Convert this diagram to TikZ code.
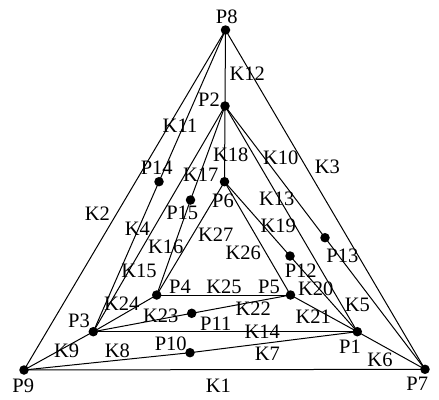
\documentclass[tikz,border=0pt]{standalone}
\usepackage{fontspec}
\setmainfont{Liberation Serif}
\begin{document}
\begin{tikzpicture}[x=1pt,y=-1pt,
  dot/.style={circle,fill=black,inner sep=0pt,minimum size=9.5pt},
  lbl/.style={inner sep=0pt,font=\fontsize{20.5}{20.5}\selectfont},
  edge/.style={line width=1pt}]
\useasboundingbox (0,0) rectangle (439,399);
% points
\node[dot] (P8) at (225.5,30) {};
\node[dot] (P2) at (225,106) {};
\node[dot] (P6) at (224.5,181.7) {};
\node[dot] (P14) at (159,181.7) {};
\node[dot] (P15) at (190.5,200) {};
\node[dot] (P13) at (325,237.7) {};
\node[dot] (P12) at (290,256) {};
\node[dot] (P4) at (156.7,295) {};
\node[dot] (P5) at (290.5,295) {};
\node[dot] (P11) at (191.7,313.3) {};
\node[dot] (P3) at (93.3,331.7) {};
\node[dot] (P1) at (357.3,331.7) {};
\node[dot] (P10) at (190,352.7) {};
\node[dot] (P9) at (24,370) {};
\node[dot] (P7) at (425,369.3) {};
% edges
\begin{scope}[edge]
\draw (P9.center) -- (P8.center);
\draw (P8.center) -- (P7.center);
\draw (P9.center) -- (P7.center);
\draw (P8.center) -- (P14.center);
\draw (P14.center) -- (P3.center);
\draw (P8.center) -- (P2.center);
\draw (P2.center) -- (P3.center);
\draw (P2.center) -- (P15.center);
\draw (P15.center) -- (P4.center);
\draw (P2.center) -- (P6.center);
\draw (P2.center) -- (P13.center);
\draw (P13.center) -- (P7.center);
\draw (P2.center) -- (P1.center);
\draw (P6.center) -- (P12.center);
\draw (P12.center) -- (P1.center);
\draw (P6.center) -- (P5.center);
\draw (P6.center) -- (P4.center);
\draw (P4.center) -- (P5.center);
\draw (P3.center) -- (P4.center);
\draw (P3.center) -- (P11.center);
\draw (P11.center) -- (P5.center);
\draw (P3.center) -- (P1.center);
\draw (P5.center) -- (P1.center);
\draw (P9.center) -- (P3.center);
\draw (P9.center) -- (P10.center);
\draw (P10.center) -- (P1.center);
\draw (P1.center) -- (P7.center);
\end{scope}
% point labels
\node[lbl] (lP8) at (226.7,16.7) {P8};
\node[lbl] (lP2) at (209,99.3) {P2};
\node[lbl] (lP14) at (156.7,167.3) {P14};
\node[lbl] (lP15) at (182.3,213.3) {P15};
\node[lbl] (lP6) at (223,201) {P6};
\node[lbl] (lP13) at (342.3,255.7) {P13};
\node[lbl] (lP12) at (300.7,270.7) {P12};
\node[lbl] (lP4) at (180,286.7) {P4};
\node[lbl] (lP5) at (269,286.7) {P5};
\node[lbl] (lP11) at (215.7,323.3) {P11};
\node[lbl] (lP3) at (79,320.7) {P3};
\node[lbl] (lP1) at (350,346.7) {P1};
\node[lbl] (lP10) at (170.7,344) {P10};
\node[lbl] (lP9) at (23.3,385.7) {P9};
\node[lbl] (lP7) at (417.3,384) {P7};
% edge labels
\node[lbl] (K1) at (218.3,385.7) {K1};
\node[lbl] (K2) at (97.3,214) {K2};
\node[lbl] (K3) at (327.3,167.3) {K3};
\node[lbl] (K4) at (137.3,229) {K4};
\node[lbl] (K5) at (357.3,305) {K5};
\node[lbl] (K6) at (380,360) {K6};
\node[lbl] (K7) at (267.3,354) {K7};
\node[lbl] (K8) at (117.3,350.7) {K8};
\node[lbl] (K9) at (66.7,350.7) {K9};
\node[lbl] (K10) at (280.7,157.3) {K10};
\node[lbl] (K11) at (180,126) {K11};
\node[lbl] (K12) at (247.3,73.3) {K12};
\node[lbl] (K13) at (276.7,199) {K13};
\node[lbl] (K14) at (262.3,331.7) {K14};
\node[lbl] (K15) at (139,270.7) {K15};
\node[lbl] (K16) at (165.7,247.3) {K16};
\node[lbl] (K17) at (200.7,175) {K17};
\node[lbl] (K18) at (230.7,155) {K18};
\node[lbl] (K19) at (278.3,225.7) {K19};
\node[lbl] (K20) at (315.7,289) {K20};
\node[lbl] (K21) at (313.3,316.7) {K21};
\node[lbl] (K22) at (253.3,308.3) {K22};
\node[lbl] (K23) at (160.7,315.7) {K23};
\node[lbl] (K24) at (121.7,303.3) {K24};
\node[lbl] (K25) at (224,286.7) {K25};
\node[lbl] (K26) at (243.3,253.3) {K26};
\node[lbl] (K27) at (215.7,235) {K27};
\end{tikzpicture}
\end{document}
